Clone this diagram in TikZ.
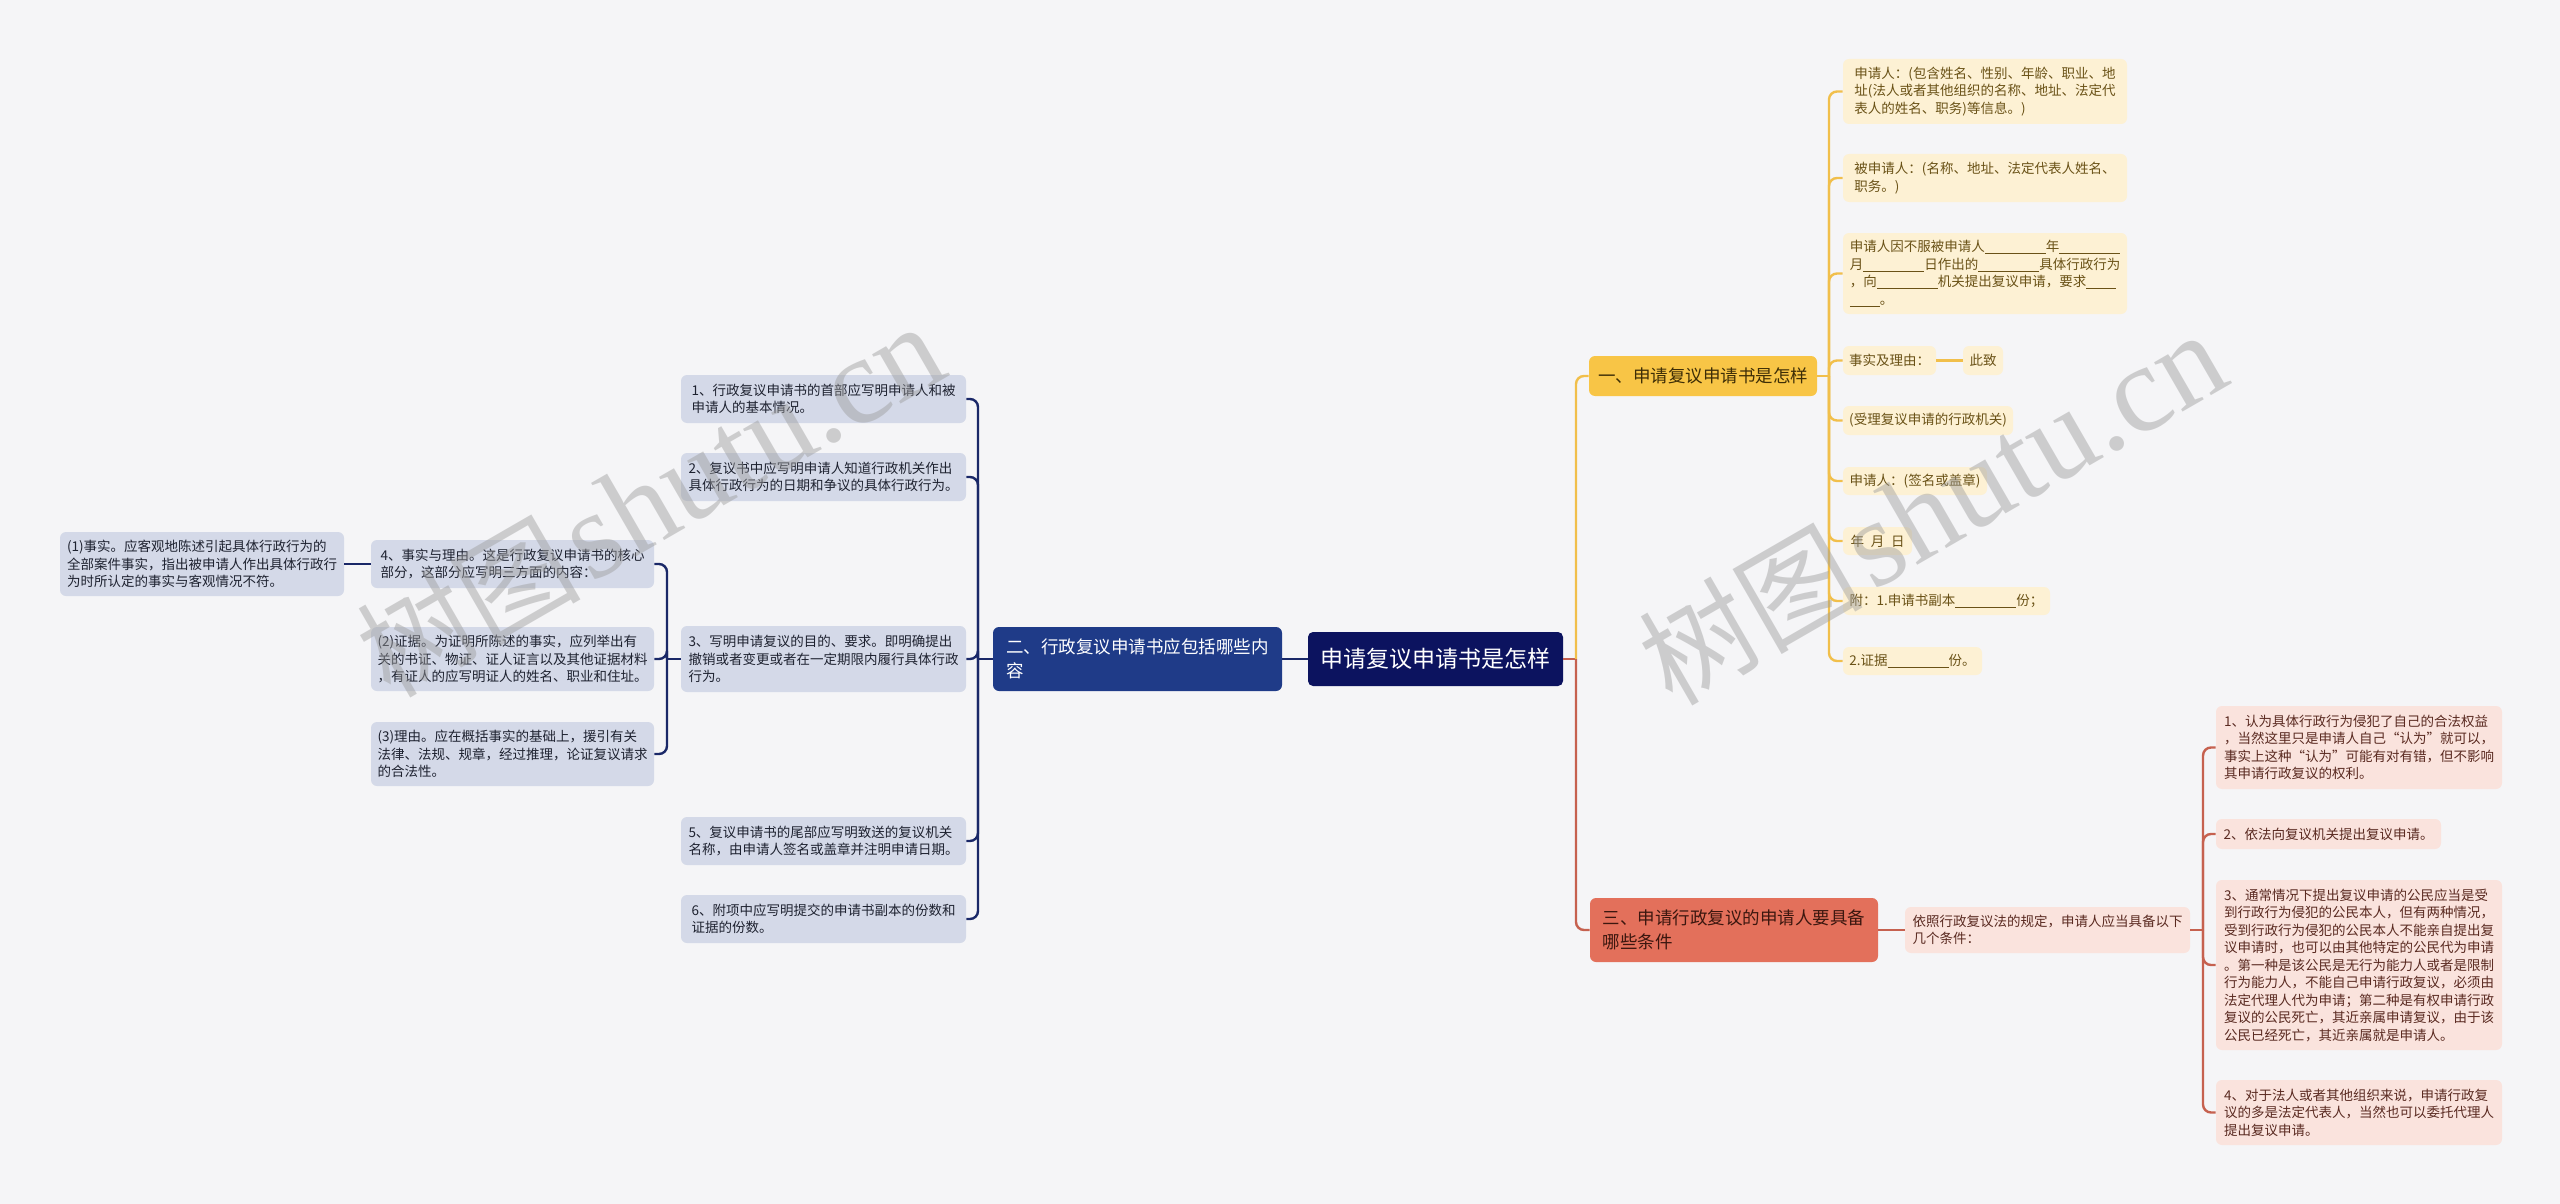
\documentclass[tikz,border=0pt]{standalone}
\usepackage{fontspec}
\setmainfont{Noto Sans CJK SC}
\newfontfamily\wmlatin{Liberation Serif}
\definecolor{bgc}{HTML}{F5F5F7}
\definecolor{rootc}{HTML}{0C135F}
\definecolor{bluec}{HTML}{1F3B88}
\definecolor{blueleaf}{HTML}{D4D9E8}
\definecolor{blueline}{HTML}{1A2868}
\definecolor{bluetext}{HTML}{1E2230}
\definecolor{yelc}{HTML}{F8C546}
\definecolor{yelleaf}{HTML}{FDF1D4}
\definecolor{yelline}{HTML}{F1BF4B}
\definecolor{yeltext}{HTML}{6A5217}
\definecolor{yelhead}{HTML}{3E2E06}
\definecolor{redc}{HTML}{E3705B}
\definecolor{redleaf}{HTML}{FAE3DD}
\definecolor{redline}{HTML}{C6614F}
\definecolor{redtext}{HTML}{5A2A21}
\definecolor{redhead}{HTML}{3C170F}
\definecolor{wmc}{HTML}{9C9C9C}
\newcommand\mmblank[1]{\rule[-1.3pt]{#1}{0.45pt}}
\newcommand\mmbox[7]{%
  \pgfmathsetmacro\mmW{(#5-#3)*0.5}%
  \pgfmathsetmacro\mmH{(#6-#4)*0.5}%
  \node[#1, minimum width=\mmW pt, minimum height=\mmH pt] (#2) at ({(#3+#5)/2},{(#4+#6)/2}) {#7};%
}
\tikzset{
  mmnode/.style={inner sep=0pt, align=left, rounded corners=3pt},
  rootbox/.style={mmnode, fill=rootc, text=white, rounded corners=2.5pt, font=\fontsize{11.5pt}{14pt}\selectfont},
  bhbox/.style={mmnode, fill=bluec, text=white, font=\fontsize{8.75pt}{12pt}\selectfont},
  yhbox/.style={mmnode, fill=yelc, text=yelhead, font=\fontsize{8.75pt}{12pt}\selectfont},
  rhbox/.style={mmnode, fill=redc, text=redhead, font=\fontsize{8.75pt}{12pt}\selectfont},
  leaffont/.style={font=\fontsize{6.75pt}{8.75pt}\selectfont},
  bleaf/.style={mmnode, leaffont, fill=blueleaf, text=bluetext},
  yleaf/.style={mmnode, leaffont, fill=yelleaf, text=yeltext},
  rleaf/.style={mmnode, leaffont, fill=redleaf, text=redtext},
  bline/.style={draw=blueline, line width=1.2pt, rounded corners=4pt},
  yline/.style={draw=yelline, line width=1.2pt, rounded corners=4pt},
  rline/.style={draw=redline, line width=1.2pt, rounded corners=4pt},
  wmark/.style={text=wmc, opacity=0.45, rotate=30, inner sep=0pt},
}
\begin{document}
\begin{tikzpicture}[x=0.5pt,y=-0.5pt]
\useasboundingbox (0,0) rectangle (2560,1204);
\fill[bgc] (0,0) rectangle (2560,1204);

% root and main branches
\mmbox{rootbox}{root}{1308}{632}{1563}{686}{申请复议申请书是怎样}
\mmbox{bhbox}{B}{993}{627}{1282}{691}{二、行政复议申请书应包括哪些内\\容}
\mmbox{yhbox}{Y}{1589}{356}{1817}{396}{一、申请复议申请书是怎样}
\mmbox{rhbox}{Rd}{1590}{898}{1878}{962}{三、申请行政复议的申请人要具备\\哪些条件}

% blue side
\mmbox{bleaf}{b1}{681}{375}{966}{423}{1、行政复议申请书的首部应写明申请人和被\\申请人的基本情况。}
\mmbox{bleaf}{b2}{681}{453}{966}{501}{2、复议书中应写明申请人知道行政机关作出\\具体行政行为的日期和争议的具体行政行为。}
\mmbox{bleaf}{b3}{681}{626}{966}{692}{3、写明申请复议的目的、要求。即明确提出\\撤销或者变更或者在一定期限内履行具体行政\\行为。}
\mmbox{bleaf}{b5}{681}{817}{966}{865}{5、复议申请书的尾部应写明致送的复议机关\\名称，由申请人签名或盖章并注明申请日期。}
\mmbox{bleaf}{b6}{681}{895}{966}{943}{6、附项中应写明提交的申请书副本的份数和\\证据的份数。}
\mmbox{bleaf}{b4}{371}{540}{654}{588}{4、事实与理由。这是行政复议申请书的核心\\部分，这部分应写明三方面的内容：}
\mmbox{bleaf}{c2}{371}{627}{654}{691}{(2)证据。为证明所陈述的事实，应列举出有\\关的书证、物证、证人证言以及其他证据材料\\，有证人的应写明证人的姓名、职业和住址。}
\mmbox{bleaf}{c3}{371}{722}{654}{786}{(3)理由。应在概括事实的基础上，援引有关\\法律、法规、规章，经过推理，论证复议请求\\的合法性。}
\mmbox{bleaf}{c1}{60}{532}{344}{596}{(1)事实。应客观地陈述引起具体行政行为的\\全部案件事实，指出被申请人作出具体行政行\\为时所认定的事实与客观情况不符。}

% yellow side
\mmbox{yleaf}{y1}{1843}{59}{2127}{124}{申请人：(包含姓名、性别、年龄、职业、地\\址(法人或者其他组织的名称、地址、法定代\\表人的姓名、职务)等信息。)}
\mmbox{yleaf}{y2}{1843}{154}{2127}{202}{被申请人：(名称、地址、法定代表人姓名、\\职务。)}
\mmbox{yleaf}{y3}{1843}{233}{2127}{314}{申请人因不服被申请人\mmblank{30.5pt}年\mmblank{30.5pt}\\月\mmblank{30.5pt}日作出的\mmblank{30.5pt}具体行政行为\\，向\mmblank{30.5pt}机关提出复议申请，要求\mmblank{15pt}\\\mmblank{15pt}。}
\mmbox{yleaf}{y4}{1843}{346}{1936}{375}{事实及理由：}
\mmbox{yleaf}{y4b}{1963}{346}{2003}{375}{此致}
\mmbox{yleaf}{y5}{1843}{406}{2013}{435}{(受理复议申请的行政机关)}
\mmbox{yleaf}{y6}{1843}{467}{1987}{495}{申请人：(签名或盖章)}
\mmbox{yleaf}{y7}{1843}{527}{1912}{555}{年\enspace 月\enspace 日}
\mmbox{yleaf}{y8}{1843}{587}{2050}{615}{附：1.申请书副本\mmblank{30.5pt}份；}
\mmbox{yleaf}{y9}{1843}{647}{1982}{675}{2.证据\mmblank{30.5pt}份。}

% red side
\mmbox{rleaf}{r0}{1905}{907}{2190}{953}{依照行政复议法的规定，申请人应当具备以下\\几个条件：}
\mmbox{rleaf}{r1}{2216}{706}{2502}{789}{1、认为具体行政行为侵犯了自己的合法权益\\，当然这里只是申请人自己“认为”就可以，\\事实上这种“认为”可能有对有错，但不影响\\其申请行政复议的权利。}
\mmbox{rleaf}{r2}{2216}{819}{2441}{849}{2、依法向复议机关提出复议申请。}
\mmbox{rleaf}{r3}{2216}{880}{2502}{1050}{3、通常情况下提出复议申请的公民应当是受\\到行政行为侵犯的公民本人，但有两种情况，\\受到行政行为侵犯的公民本人不能亲自提出复\\议申请时，也可以由其他特定的公民代为申请\\。第一种是该公民是无行为能力人或者是限制\\行为能力人，不能自己申请行政复议，必须由\\法定代理人代为申请；第二种是有权申请行政\\复议的公民死亡，其近亲属申请复议，由于该\\公民已经死亡，其近亲属就是申请人。}
\mmbox{rleaf}{r4}{2216}{1080}{2502}{1145}{4、对于法人或者其他组织来说，申请行政复\\议的多是法定代表人，当然也可以委托代理人\\提出复议申请。}

% connectors: root
\draw[bline] (root.west) -- (B.east);
\draw[rline] (root.east) -- (1576,659);
\draw[yline] (1576,659) |- (Y.west);
\draw[rline] (1576,659) |- (Rd.west);

% blue brackets
\draw[bline] (B.west) -- (978,659);
\foreach \n in {b1,b2,b3,b5,b6} \draw[bline] (978,659) |- (\n.east);
\draw[bline] (b3.west) -- (667,659);
\foreach \n in {b4,c2,c3} \draw[bline] (667,659) |- (\n.east);
\draw[bline] (b4.west) -- (c1.east);

% yellow bracket
\draw[yline] (Y.east) -- (1829,376);
\foreach \n in {y1,y2,y3,y4,y5,y6,y7,y8,y9} \draw[yline] (1829,376) |- (\n.west);
\draw[yline] (y4.east) -- (y4b.west);

% red brackets
\draw[rline] (Rd.east) -- (r0.west);
\draw[rline] (r0.east) -- (2203,930);
\foreach \n in {r1,r2,r3,r4} \draw[rline] (2203,930) |- (\n.west);

% watermarks
\node[wmark] (wm1) at (650,500) {{\fontsize{56pt}{56pt}\selectfont 树图}\hspace{4pt}{\wmlatin\fontsize{62pt}{62pt}\selectfont shutu.cn}};
\node[wmark] (wm2) at (1932,508) {{\fontsize{56pt}{56pt}\selectfont 树图}\hspace{4pt}{\wmlatin\fontsize{62pt}{62pt}\selectfont shutu.cn}};
\end{tikzpicture}
\end{document}
